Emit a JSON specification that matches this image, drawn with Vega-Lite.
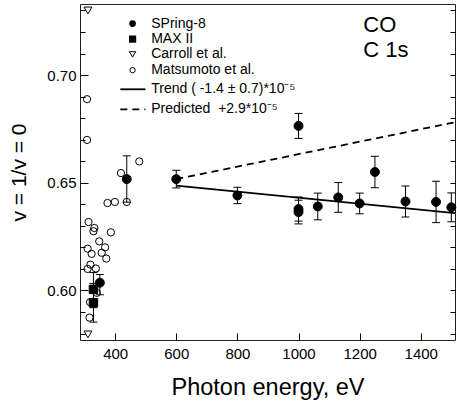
{
  "$schema": "https://vega.github.io/schema/vega-lite/v6.json",
  "width": 375,
  "height": 336,
  "autosize": {"type": "none"},
  "padding": {"left": 80, "top": 4, "right": 2, "bottom": 63},
  "background": "white",
  "config": {
    "font": "Liberation Sans",
    "view": {"stroke": "#222", "strokeWidth": 1},
    "axis": {
      "grid": false, "domain": false, "tickColor": "black", "tickWidth": 1,
      "labelColor": "black", "titleColor": "black",
      "labelFont": "Liberation Sans", "titleFont": "Liberation Sans",
      "labelFontSize": 15, "titleFontSize": 22, "titleFontWeight": "normal"
    }
  },
  "datasets": {
    "obs": [
      {"series": "Matsumoto", "energy": 479, "ratio": 0.6599},
      {"series": "Matsumoto", "energy": 419, "ratio": 0.6545},
      {"series": "Matsumoto", "energy": 438, "ratio": 0.6411},
      {"series": "Matsumoto", "energy": 375, "ratio": 0.6406},
      {"series": "Matsumoto", "energy": 399, "ratio": 0.6411},
      {"series": "Matsumoto", "energy": 313, "ratio": 0.6318},
      {"series": "Matsumoto", "energy": 332, "ratio": 0.6290},
      {"series": "Matsumoto", "energy": 329, "ratio": 0.6275},
      {"series": "Matsumoto", "energy": 386, "ratio": 0.6270},
      {"series": "Matsumoto", "energy": 348, "ratio": 0.6228},
      {"series": "Matsumoto", "energy": 310, "ratio": 0.6194},
      {"series": "Matsumoto", "energy": 323, "ratio": 0.6170},
      {"series": "Matsumoto", "energy": 367, "ratio": 0.6200},
      {"series": "Matsumoto", "energy": 356, "ratio": 0.6175},
      {"series": "Matsumoto", "energy": 371, "ratio": 0.6148},
      {"series": "Matsumoto", "energy": 319, "ratio": 0.6120},
      {"series": "Matsumoto", "energy": 310, "ratio": 0.6100},
      {"series": "Matsumoto", "energy": 337, "ratio": 0.6102},
      {"series": "Matsumoto", "energy": 340, "ratio": 0.5989},
      {"series": "Matsumoto", "energy": 318, "ratio": 0.5946},
      {"series": "Matsumoto", "energy": 316, "ratio": 0.5874},
      {"series": "Matsumoto", "energy": 308, "ratio": 0.6888},
      {"series": "Matsumoto", "energy": 308, "ratio": 0.6699},
      {"series": "Carroll", "energy": 311, "ratio": 0.7300},
      {"series": "Carroll", "energy": 311, "ratio": 0.5796},
      {"series": "MAX II", "energy": 329, "ratio": 0.6005, "lo": 0.5920, "hi": 0.6083},
      {"series": "MAX II", "energy": 329, "ratio": 0.5943, "lo": 0.5853, "hi": 0.6033},
      {"series": "SPring-8", "energy": 350, "ratio": 0.6036, "lo": 0.5980, "hi": 0.6074},
      {"series": "SPring-8", "energy": 438, "ratio": 0.6517, "lo": 0.6410, "hi": 0.6625},
      {"series": "SPring-8", "energy": 600, "ratio": 0.6517, "lo": 0.6476, "hi": 0.6558},
      {"series": "SPring-8", "energy": 800, "ratio": 0.6441, "lo": 0.6403, "hi": 0.6479},
      {"series": "SPring-8", "energy": 1000, "ratio": 0.6764, "lo": 0.6706, "hi": 0.6822},
      {"series": "SPring-8", "energy": 1000, "ratio": 0.6378, "lo": 0.6322, "hi": 0.6434},
      {"series": "SPring-8", "energy": 1000, "ratio": 0.6364, "lo": 0.6309, "hi": 0.6419},
      {"series": "SPring-8", "energy": 1063, "ratio": 0.6390, "lo": 0.6328, "hi": 0.6452},
      {"series": "SPring-8", "energy": 1130, "ratio": 0.6432, "lo": 0.6363, "hi": 0.6501},
      {"series": "SPring-8", "energy": 1200, "ratio": 0.6404, "lo": 0.6356, "hi": 0.6452},
      {"series": "SPring-8", "energy": 1250, "ratio": 0.6550, "lo": 0.6477, "hi": 0.6623},
      {"series": "SPring-8", "energy": 1350, "ratio": 0.6413, "lo": 0.6341, "hi": 0.6485},
      {"series": "SPring-8", "energy": 1450, "ratio": 0.6411, "lo": 0.6315, "hi": 0.6507},
      {"series": "SPring-8", "energy": 1500, "ratio": 0.6386, "lo": 0.6319, "hi": 0.6453}
    ],
    "trend": [
      {"energy": 600, "ratio": 0.6487},
      {"energy": 1512, "ratio": 0.6359}
    ],
    "predicted": [
      {"energy": 600, "ratio": 0.6517},
      {"energy": 1512, "ratio": 0.6781}
    ],
    "one": [{}]
  },
  "layer": [
    {
      "data": {"name": "trend"},
      "mark": {"type": "line", "color": "black", "strokeWidth": 1.8, "clip": true},
      "encoding": {
        "x": {"field": "energy", "type": "quantitative",
              "scale": {"domain": [285, 1512], "nice": false, "zero": false},
              "axis": {"values": [400, 600, 800, 1000, 1200, 1400], "format": "d", "offset": -7, "tickSize": 7, "labelPadding": 6,
                       "labelFontSize": 15, "title": "Photon energy, eV", "titleFontSize": 23.5, "titleBaseline": "alphabetic", "titleY": 61}},
        "y": {"field": "ratio", "type": "quantitative",
              "scale": {"domain": [0.577, 0.733], "nice": false, "zero": false},
              "axis": {"orient": "left", "values": [0.6, 0.65, 0.7], "format": ".2f", "offset": -8, "tickSize": 8, "labelPadding": 4,
                       "labelFontSize": 15, "title": "v = 1/v = 0", "titleFontSize": 21, "titleBaseline": "alphabetic", "titleX": -63}}
      }
    },
    {
      "data": {"name": "predicted"},
      "mark": {"type": "line", "color": "black", "strokeWidth": 1.8, "strokeDash": [7, 5], "clip": true},
      "encoding": {
        "x": {"field": "energy", "type": "quantitative"},
        "y": {"field": "ratio", "type": "quantitative",
              "axis": {"orient": "left", "values": [0.58, 0.59, 0.61, 0.62, 0.63, 0.64, 0.66, 0.67, 0.68, 0.69, 0.71, 0.72, 0.73],
                       "offset": -5, "tickSize": 5, "labels": false, "title": null}}
      }
    },
    {
      "data": {"name": "obs"},
      "transform": [{"filter": "isValid(datum.lo)"}],
      "mark": {"type": "rule", "color": "black", "strokeWidth": 1},
      "encoding": {
        "x": {"field": "energy", "type": "quantitative"},
        "y": {"field": "lo", "type": "quantitative", "axis": null},
        "y2": {"field": "hi"}
      }
    },
    {
      "data": {"name": "obs"},
      "transform": [{"filter": "isValid(datum.lo)"}],
      "mark": {"type": "tick", "orient": "horizontal", "color": "black", "size": 8, "thickness": 1, "opacity": 1},
      "encoding": {
        "x": {"field": "energy", "type": "quantitative"},
        "y": {"field": "lo", "type": "quantitative", "axis": null}
      }
    },
    {
      "data": {"name": "obs"},
      "transform": [{"filter": "isValid(datum.hi)"}],
      "mark": {"type": "tick", "orient": "horizontal", "color": "black", "size": 8, "thickness": 1, "opacity": 1},
      "encoding": {
        "x": {"field": "energy", "type": "quantitative"},
        "y": {"field": "hi", "type": "quantitative", "axis": null}
      }
    },
    {
      "data": {"name": "obs"},
      "mark": {"type": "point", "filled": true, "stroke": "black", "strokeWidth": 1, "opacity": 1},
      "encoding": {
        "x": {"field": "energy", "type": "quantitative"},
        "y": {"field": "ratio", "type": "quantitative",
              "axis": {"orient": "right", "values": [0.58, 0.59, 0.6, 0.61, 0.62, 0.63, 0.64, 0.65, 0.66, 0.67, 0.68, 0.69, 0.7, 0.71, 0.72, 0.73],
                       "offset": -5, "tickSize": 5, "labels": false, "title": null}},
        "shape": {"field": "series", "type": "nominal", "legend": null,
                  "scale": {"domain": ["SPring-8", "MAX II", "Carroll", "Matsumoto"], "range": ["circle", "square", "triangle-down", "circle"]}},
        "fill": {"field": "series", "type": "nominal", "legend": null,
                 "scale": {"domain": ["SPring-8", "MAX II", "Carroll", "Matsumoto"], "range": ["black", "black", "transparent", "transparent"]}},
        "size": {"field": "series", "type": "nominal", "legend": null,
                 "scale": {"domain": ["SPring-8", "MAX II", "Carroll", "Matsumoto"], "range": [80, 53, 45, 30]}}
      }
    },
    {
      "data": {"name": "one"},
      "mark": {"type": "point", "shape": "circle", "filled": true, "color": "black", "size": 45, "opacity": 1},
      "encoding": {"x": {"datum": 457, "type": "quantitative"}, "y": {"datum": 0.7239, "type": "quantitative", "axis": null}}
    },
    {
      "data": {"name": "one"},
      "mark": {"type": "point", "shape": "square", "filled": true, "color": "black", "size": 52, "opacity": 1},
      "encoding": {"x": {"datum": 457, "type": "quantitative"}, "y": {"datum": 0.7167, "type": "quantitative", "axis": null}}
    },
    {
      "data": {"name": "one"},
      "mark": {"type": "point", "shape": "triangle-down", "filled": false, "color": "black", "size": 40, "strokeWidth": 1, "opacity": 1},
      "encoding": {"x": {"datum": 457, "type": "quantitative"}, "y": {"datum": 0.7096, "type": "quantitative", "axis": null}}
    },
    {
      "data": {"name": "one"},
      "mark": {"type": "point", "shape": "circle", "filled": false, "color": "black", "size": 28, "strokeWidth": 1, "opacity": 1},
      "encoding": {"x": {"datum": 457, "type": "quantitative"}, "y": {"datum": 0.7023, "type": "quantitative", "axis": null}}
    },
    {
      "data": {"name": "one"},
      "mark": {"type": "rule", "color": "black", "strokeWidth": 1.8},
      "encoding": {"x": {"datum": 417, "type": "quantitative"}, "x2": {"datum": 499}, "y": {"datum": 0.6934, "type": "quantitative", "axis": null}}
    },
    {
      "data": {"name": "one"},
      "mark": {"type": "rule", "color": "black", "strokeWidth": 1.8, "strokeDash": [7, 5]},
      "encoding": {"x": {"datum": 417, "type": "quantitative"}, "x2": {"datum": 499}, "y": {"datum": 0.6841, "type": "quantitative", "axis": null}}
    },
    {
      "data": {"name": "one"},
      "mark": {"type": "text", "align": "left", "baseline": "middle", "fontSize": 14, "color": "black", "text": "SPring-8"},
      "encoding": {"x": {"datum": 518, "type": "quantitative"}, "y": {"datum": 0.7239, "type": "quantitative", "axis": null}}
    },
    {
      "data": {"name": "one"},
      "mark": {"type": "text", "align": "left", "baseline": "middle", "fontSize": 14, "color": "black", "text": "MAX II"},
      "encoding": {"x": {"datum": 518, "type": "quantitative"}, "y": {"datum": 0.7167, "type": "quantitative", "axis": null}}
    },
    {
      "data": {"name": "one"},
      "mark": {"type": "text", "align": "left", "baseline": "middle", "fontSize": 14, "color": "black", "text": "Carroll et al."},
      "encoding": {"x": {"datum": 518, "type": "quantitative"}, "y": {"datum": 0.7096, "type": "quantitative", "axis": null}}
    },
    {
      "data": {"name": "one"},
      "mark": {"type": "text", "align": "left", "baseline": "middle", "fontSize": 14, "color": "black", "text": "Matsumoto et al."},
      "encoding": {"x": {"datum": 518, "type": "quantitative"}, "y": {"datum": 0.7023, "type": "quantitative", "axis": null}}
    },
    {
      "data": {"name": "one"},
      "mark": {"type": "text", "align": "left", "baseline": "middle", "fontSize": 14, "color": "black", "text": "Trend ( -1.4 ± 0.7)*10⁻⁵"},
      "encoding": {"x": {"datum": 518, "type": "quantitative"}, "y": {"datum": 0.6934, "type": "quantitative", "axis": null}}
    },
    {
      "data": {"name": "one"},
      "mark": {"type": "text", "align": "left", "baseline": "middle", "fontSize": 14, "color": "black", "text": "Predicted\u00a0 +2.9*10⁻⁵"},
      "encoding": {"x": {"datum": 518, "type": "quantitative"}, "y": {"datum": 0.6841, "type": "quantitative", "axis": null}}
    },
    {
      "data": {"name": "one"},
      "mark": {"type": "text", "align": "left", "baseline": "alphabetic", "fontSize": 22, "color": "black", "text": "CO"},
      "encoding": {"x": {"datum": 1212, "type": "quantitative"}, "y": {"datum": 0.7200, "type": "quantitative", "axis": null}}
    },
    {
      "data": {"name": "one"},
      "mark": {"type": "text", "align": "left", "baseline": "alphabetic", "fontSize": 22, "color": "black", "text": "C 1s"},
      "encoding": {"x": {"datum": 1212, "type": "quantitative"}, "y": {"datum": 0.7085, "type": "quantitative", "axis": null}}
    }
  ],
  "resolve": {"axis": {"y": "independent"}}
}
